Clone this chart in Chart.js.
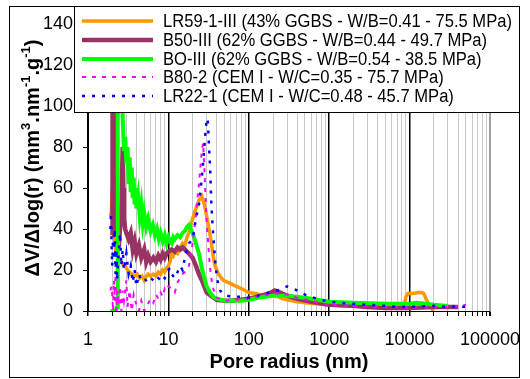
<!DOCTYPE html>
<html lang="en">
<head>
<meta charset="UTF-8">
<title>Pore size distribution</title>
<script src="https://cdn.jsdelivr.net/npm/chart.js"></script>
<style>
  html, body { margin: 0; padding: 0; background: #fff; }
  #wrap { width: 530px; height: 379px; }
</style>
</head>
<body>
<div id="wrap"><canvas id="psd" width="530" height="379"></canvas></div>
<script>
// series names, in legend order
const seriesLabels = [
  'LR59-1-III (43% GGBS - W/B=0.41 - 75.5 MPa)',
  'B50-III (62% GGBS - W/B=0.44 - 49.7 MPa)',
  'BO-III (62% GGBS - W/B=0.54 - 38.5 MPa)',
  'B80-2 (CEM I - W/C=0.35 - 75.7 MPa)',
  'LR22-1 (CEM I - W/C=0.48 - 45.7 MPa)'
];

// pore radius (nm) and dV/dlog(r)
const lr59R = [1.9, 1.95, 2.0, 2.03, 2.1, 2.2, 2.3, 2.4, 2.5, 2.7, 2.9, 3.1, 3.3, 3.5, 3.8, 4.1, 4.4, 4.7, 5.0, 5.3, 5.6, 6.0, 6.5, 7.0, 7.5, 8.0, 8.5, 9.0, 9.5, 10, 10.5, 11, 11.5, 12, 13, 14, 15, 16, 17, 18, 19, 20, 22, 24, 26, 28, 30, 32, 34, 36, 38, 42, 48, 55, 62, 70, 80, 90, 95, 100, 120, 140, 160, 180, 200, 230, 260, 300, 400, 500, 700, 1000, 1500, 2000, 3000, 5000, 7000, 8500, 9000, 9500, 11000, 13000, 14000, 15000, 16000, 17000, 18000, 20000];
const lr59V = [46, 48, 60, 45, 40, 30, 28, 26, 25, 23, 22, 20, 19, 18, 17, 18, 16, 17, 15, 17, 18, 17, 18, 17, 19, 18, 20, 19, 21, 22, 24, 28, 27, 29, 28, 31, 33, 32, 36, 38, 42, 45, 50, 54, 56, 52, 46, 40, 34, 27, 22, 18, 15, 14, 13, 12, 11, 10, 9.5, 9, 8.5, 8, 8, 8.5, 8, 7, 6, 5.5, 4.5, 4, 3.5, 3, 2.5, 2.3, 2, 2, 2, 2.2, 7, 8.5, 8.5, 9, 9, 8.5, 6, 4, 2, 0];

const b50R = [2.0, 2.02, 2.1, 2.2, 2.25, 2.3, 2.4, 2.5, 2.6, 2.7, 2.75, 2.8, 2.9, 3.0, 3.2, 3.4, 3.6, 3.8, 4.0, 4.3, 4.6, 5.0, 5.3, 5.6, 6.0, 6.5, 7.0, 7.5, 8.0, 8.5, 9.0, 9.5, 10, 11, 12, 13, 14, 15, 16, 17, 18, 19, 20, 22, 24, 26, 28, 30, 35, 40, 50, 60, 80, 100, 130, 160, 190, 210, 230, 260, 300, 400, 600, 1000, 2000, 3000, 5000, 10000, 20000, 30000, 40000];
const b50V = [37, 145, 150, 100, 60, 38, 45, 40, 50, 80, 60, 45, 40, 38, 35, 38, 30, 34, 28, 32, 26, 30, 24, 27, 24, 26, 24, 27, 25, 28, 26, 28, 29, 30, 29, 31, 30, 31, 30, 29, 28, 27, 26, 22, 18, 15, 12, 9, 7, 5.5, 5, 5, 5.5, 6, 7, 8, 9, 10, 9.5, 8.5, 7.5, 6, 4.5, 3, 2.5, 2, 1.5, 1.5, 2, 2, 2];

const boR = [1.9, 2.2, 2.3, 2.33, 2.36, 2.4, 2.5, 2.6, 2.7, 2.8, 2.9, 3.0, 3.1, 3.2, 3.3, 3.4, 3.5, 3.6, 3.7, 3.8, 3.9, 4.0, 4.2, 4.4, 4.6, 4.8, 5.0, 5.3, 5.6, 6.0, 6.4, 6.8, 7.2, 7.6, 8.0, 8.5, 9.0, 9.5, 10, 10.5, 11, 11.5, 12, 13, 14, 15, 16, 17, 18, 19, 20, 22, 24, 26, 28, 30, 33, 36, 40, 50, 60, 80, 100, 130, 160, 200, 300, 400, 600, 1000, 2000, 5000, 10000, 12000, 14000, 20000, 30000];
const boV = [0, 0, 2, 30, 100, 150, 150, 110, 95, 78, 85, 72, 80, 62, 75, 58, 70, 55, 65, 52, 60, 50, 56, 46, 52, 43, 48, 41, 45, 39, 42, 37, 40, 35, 38, 34, 37, 33, 36, 34, 33, 36, 35, 37, 36, 38, 39, 41, 42, 40, 38, 33, 28, 21, 16, 12, 9, 7, 6, 5, 5, 5, 5.5, 6.5, 7, 7.5, 7.5, 7, 6, 4.5, 4, 3.5, 3.5, 4, 3.8, 3, 2.5];

const b80R = [1.9, 1.95, 2.0, 2.05, 2.1, 2.15, 2.2, 2.25, 2.3, 2.4, 2.5, 2.6, 2.7, 2.8, 3.0, 3.1, 3.3, 3.5, 3.7, 4.0, 4.3, 4.6, 5.0, 5.5, 6.0, 6.5, 7.0, 7.5, 8.0, 8.5, 9.0, 9.5, 10, 11, 12, 13, 14, 15, 16, 17, 18, 19, 20, 21, 22, 23, 24, 25, 26, 27, 28, 29, 30, 31, 32, 33, 35, 38, 40, 50, 70, 100, 150, 200, 250, 300, 400, 600, 1000, 2000, 5000, 10000, 20000, 30000, 40000, 50000];
const b80V = [10, 12, 8, 0, 15, 5, 18, 0, 10, 3, 12, 0, 10, 5, 15, 2, 10, 0, 8, 3, 0, 5, 0, 3, 6, 4, 8, 6, 9, 7, 11, 10, 12, 11, 9, 14, 16, 18, 19, 20, 22, 27, 33, 40, 47, 55, 62, 70, 78, 82, 70, 55, 42, 35, 27, 21, 13, 8, 6.5, 5, 5.5, 6, 7.5, 8.5, 8.5, 8, 6.5, 5, 3, 2.5, 2, 1.5, 2, 2, 2.5, 3];

const lr22R = [1.9, 1.93, 1.97, 2.0, 2.05, 2.1, 2.15, 2.2, 2.25, 2.3, 2.4, 2.5, 2.6, 2.7, 2.8, 3.0, 3.2, 3.4, 3.6, 3.8, 4.0, 4.3, 4.6, 5.0, 5.5, 6.0, 6.5, 7.0, 7.5, 8.0, 8.5, 9.0, 9.5, 10, 10.5, 11, 12, 13, 14, 15, 16, 17, 18, 19, 20, 22, 24, 25, 26, 27, 28, 29, 30, 31, 32, 33, 34, 35, 36, 38, 40, 42, 44, 48, 60, 80, 100, 130, 160, 200, 250, 300, 350, 400, 500, 700, 1000, 2000, 3000, 5000, 7000, 10000, 20000, 30000, 40000, 50000];
const lr22V = [40, 48, 30, 22, 35, 25, 40, 18, 30, 15, 28, 38, 22, 30, 20, 28, 18, 22, 14, 20, 12, 18, 15, 16, 14, 16, 15, 14, 16, 15, 17, 16, 18, 20, 21, 18, 16, 19, 22, 20, 26, 30, 33, 34, 35, 45, 52, 58, 65, 72, 80, 88, 94, 92, 80, 70, 55, 45, 38, 25, 17, 12, 10, 8, 7, 7, 6.5, 7.5, 8.5, 9.5, 10.5, 12, 11, 10, 8, 6, 4.5, 3.5, 3, 2.5, 2, 2, 2.5, 2, 2.2, 2];

const seriesR = [lr59R, b50R, boR, b80R, lr22R];
const seriesV = [lr59V, b50V, boV, b80V, lr22V];
const seriesColors = ['#ff9900', '#993366', '#00ff00', '#ff00ff', '#0000ff'];
const seriesWidths = [3.5, 4.5, 4, 2, 2.5];
const seriesDash = [[], [], [], [4, 6], [3, 7]];

// log axis: gridlines at 1..9 per decade, labels on decades only
const xDecades = [1, 10, 100, 1000, 10000, 100000];
const xTickValues = [];
xDecades.forEach(d => {
  for (let m = 1; m <= 9; m++) {
    if (d * m <= 100000) xTickValues.push(d * m);
  }
});

const FONT = '"Liberation Sans", Arial, sans-serif';

function isDecade(v) {
  const l = Math.log10(v);
  return Math.abs(l - Math.round(l)) < 1e-9;
}

const datasets = seriesLabels.map((label, i) => ({
  label: label,
  data: seriesR[i].map((r, j) => ({ x: r, y: seriesV[i][j] })),
  borderColor: seriesColors[i],
  backgroundColor: seriesColors[i],
  borderWidth: seriesWidths[i],
  borderDash: seriesDash[i],
  pointRadius: 0,
  tension: 0,
  fill: false,
  order: seriesLabels.length - i
}));

// white background, frame, y title and the boxed legend
const decorations = {
  id: 'decorations',
  beforeDraw(chart) {
    const ctx = chart.ctx;
    ctx.save();
    ctx.fillStyle = '#fff';
    ctx.fillRect(0, 0, chart.width, chart.height);
    ctx.restore();
  },
  afterDraw(chart) {
    const ctx = chart.ctx;
    ctx.save();

    // y axis title with superscripts
    ctx.translate(33, 158);
    ctx.rotate(-Math.PI / 2);
    const parts = [['ΔV/Δlog(r) (mm', 0], ['3', 1], ['.nm', 0], ['-1', 1], ['.g', 0], ['-1', 1], [')', 0]];
    const big = 'bold 20px ' + FONT, small = 'bold 13px ' + FONT;
    let total = 0;
    parts.forEach(p => { ctx.font = p[1] ? small : big; total += ctx.measureText(p[0]).width; });
    let px = -total / 2;
    ctx.fillStyle = '#000';
    ctx.textBaseline = 'middle';
    parts.forEach(p => {
      ctx.font = p[1] ? small : big;
      ctx.fillText(p[0], px, p[1] ? -7 : 0);
      px += ctx.measureText(p[0]).width;
    });
    ctx.restore();

    // legend box
    ctx.save();
    ctx.fillStyle = '#fff';
    ctx.fillRect(74, 6, 445, 106);
    ctx.strokeStyle = '#000';
    ctx.lineWidth = 1;
    ctx.strokeRect(74.5, 6.5, 445, 106);
    const rows = [21, 40, 59, 77, 96];
    ctx.font = '18px ' + FONT;
    ctx.textBaseline = 'middle';
    // the source font is condensed: squeeze so the longest label spans 349px
    const sx = Math.min(1, 349 / ctx.measureText(chart.data.datasets[0].label).width);
    chart.data.datasets.forEach((ds, i) => {
      const y = rows[i];
      ctx.strokeStyle = ds.borderColor;
      ctx.lineWidth = ds.borderWidth;
      ctx.setLineDash(ds.borderDash);
      ctx.beginPath();
      ctx.moveTo(82, y);
      ctx.lineTo(153, y);
      ctx.stroke();
      ctx.setLineDash([]);
      ctx.fillStyle = '#000';
      ctx.save();
      ctx.translate(163, y + 1);
      ctx.scale(sx, 1);
      ctx.fillText(ds.label, 0, 0);
      ctx.restore();
    });

    // outer frame
    ctx.strokeStyle = '#000';
    ctx.lineWidth = 1;
    ctx.strokeRect(9.5, 6.5, 510, 371);
    ctx.restore();
  }
};

new Chart(document.getElementById('psd'), {
  type: 'line',
  data: { datasets: datasets },
  options: {
    responsive: false,
    animation: false,
    layout: { padding: { left: 20, right: 40, top: 24, bottom: 0 } },
    plugins: {
      legend: { display: false },
      tooltip: { enabled: false }
    },
    scales: {
      x: {
        type: 'logarithmic',
        min: 1,
        max: 100000,
        afterBuildTicks: (scale) => {
          scale.ticks = xTickValues.map(v => ({ value: v, major: isDecade(v) }));
        },
        afterFit: (scale) => {
          scale.height = 68;
          // let the last label run past the plot edge, as in the source
          scale.paddingLeft = 0;
          scale.paddingRight = 0;
        },
        ticks: {
          autoSkip: false,
          maxRotation: 0,
          padding: 13,
          color: '#000',
          font: { family: FONT, size: 18 },
          callback: (v) => isDecade(v) ? String(v) : ''
        },
        grid: {
          drawOnChartArea: true,
          drawTicks: true,
          tickLength: 5,
          tickColor: '#000',
          color: (c) => {
            const v = c.tick ? c.tick.value : 0;
            if (v === 100000) return '#a0a0a0';
            return isDecade(v) ? '#000' : '#c8c8c8';
          },
          lineWidth: (c) => {
            const v = c.tick ? c.tick.value : 0;
            if (v === 100000) return 2;
            return isDecade(v) ? 1.5 : 1;
          }
        },
        border: { display: true, color: '#000', width: 1 },
        title: {
          display: true,
          text: 'Pore radius (nm)',
          color: '#000',
          font: { family: FONT, size: 20, weight: 'bold' },
          padding: { top: 0, bottom: 5 }
        }
      },
      y: {
        min: 0,
        max: 140,
        afterFit: (scale) => { scale.width = 68; },
        ticks: {
          stepSize: 20,
          padding: 10,
          color: '#000',
          font: { family: FONT, size: 18 }
        },
        grid: {
          drawOnChartArea: false,
          drawTicks: true,
          tickLength: 5,
          tickColor: '#000'
        },
        border: { display: true, color: '#000', width: 1 }
      }
    }
  },
  plugins: [decorations]
});
</script>
</body>
</html>
